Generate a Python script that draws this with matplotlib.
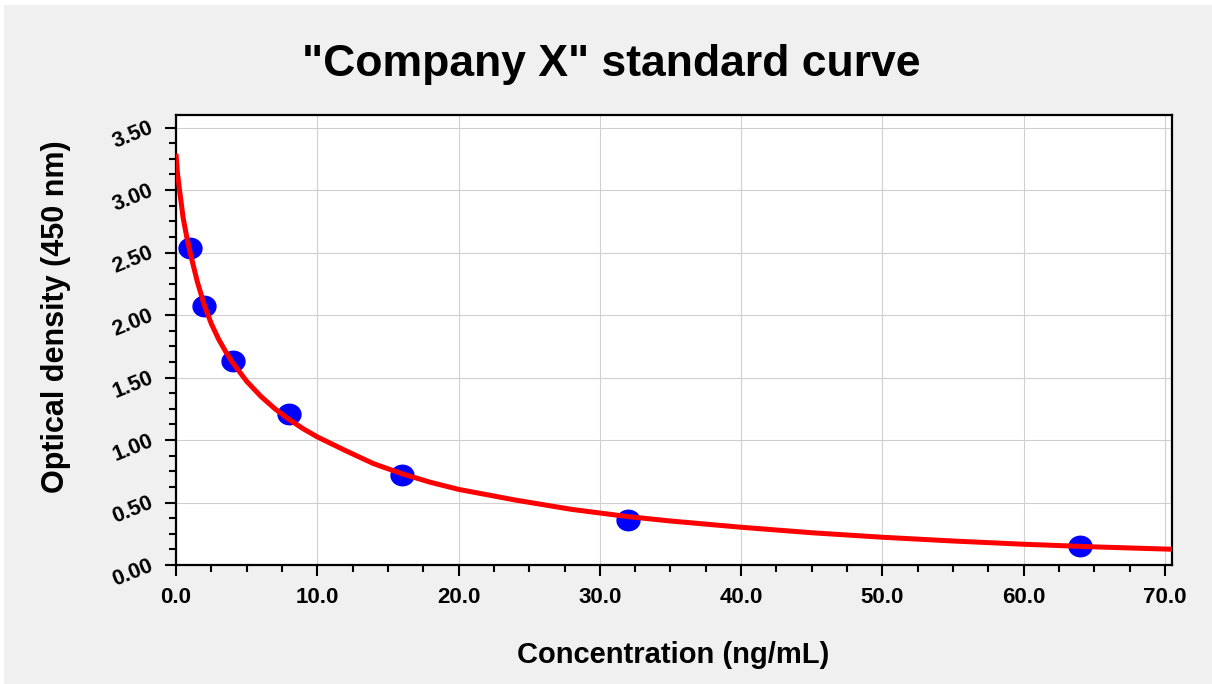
import matplotlib
matplotlib.use("Agg")
import matplotlib.pyplot as plt
from matplotlib.patches import Rectangle
from matplotlib.path import Path
from matplotlib.transforms import Affine2D
from matplotlib.ticker import MultipleLocator, FormatStrFormatter

# ---- data ----
conc = [1, 2, 4, 8, 16, 32, 64]
od = [2.54, 2.07, 1.63, 1.21, 0.72, 0.36, 0.155]

curve_x = [0, 0.1, 0.25, 0.5, 0.75, 1, 1.5, 2, 2.5, 3, 3.5, 4, 5, 6, 7, 8, 9,
           10, 12, 14, 16, 18, 20, 24, 28, 32, 35, 40, 45, 50, 55, 60, 65, 70.5]
curve_y = [3.29, 3.14, 3.00, 2.78, 2.63, 2.50, 2.27, 2.08, 1.93, 1.81, 1.71,
           1.62, 1.47, 1.35, 1.25, 1.165, 1.09, 1.025, 0.915, 0.81, 0.73,
           0.662, 0.605, 0.52, 0.445, 0.387, 0.352, 0.302, 0.258, 0.222,
           0.192, 0.166, 0.145, 0.126]

title = '"Company X" standard curve'
xlabel = "Concentration (ng/mL)"
ylabel = "Optical density (450 nm)"

plt.rcParams['font.family'] = ['Liberation Sans', 'DejaVu Sans']
plt.rcParams['font.weight'] = 'bold'

W, H = 1212, 684
fig = plt.figure(figsize=(W / 100, H / 100), dpi=100, facecolor='white')
fig.patches.append(Rectangle((4 / W, 0), 1, 1 - 5 / H, transform=fig.transFigure,
                             facecolor='#f0f0f0', edgecolor='none', zorder=-10))

ax = fig.add_axes([176 / W, 1 - 565 / H, (1172 - 176) / W, (565 - 115) / H])
ax.set_facecolor('white')

ax.grid(True, which='major', color='#d0d0d0', linewidth=0.8, zorder=0)
ax.set_axisbelow(True)

ax.plot(curve_x, curve_y, color='#ff0000', linewidth=3.6, zorder=3,
        solid_capstyle='butt', solid_joinstyle='round')

ell = Path.unit_circle().transformed(Affine2D().scale(1.12, 1.0))
ax.plot(conc, od, linestyle='none', marker=ell, markersize=16.5,
        markerfacecolor='#0000ff', markeredgecolor='#0000ff', zorder=2)

ax.set_xlim(0, 70.5)
ax.set_ylim(0, 3.6)
ax.xaxis.set_major_locator(MultipleLocator(10))
ax.xaxis.set_minor_locator(MultipleLocator(2.5))
ax.yaxis.set_major_locator(MultipleLocator(0.5))
ax.yaxis.set_minor_locator(MultipleLocator(0.125))
ax.xaxis.set_major_formatter(FormatStrFormatter('%.1f'))
ax.yaxis.set_major_formatter(FormatStrFormatter('%.2f'))

for s in ax.spines.values():
    s.set_linewidth(1.6)
    s.set_color('black')

ax.tick_params(axis='both', which='major', length=8, width=1.5, color='black',
               labelsize=16)
ax.tick_params(axis='both', which='minor', length=5, width=1.5, color='black')
ax.tick_params(axis='x', which='major', pad=8)
ax.tick_params(axis='y', which='major', pad=9, labelsize=15.5)

for lbl in ax.get_yticklabels():
    lbl.set_rotation(22)
    lbl.set_rotation_mode('anchor')
    lbl.set_ha('right')
    lbl.set_va('center')
    lbl.set_fontweight('bold')
for lbl in ax.get_xticklabels():
    lbl.set_fontweight('bold')

fig.text(611 / W, 1 - 76 / H, title, ha='center', va='baseline',
         fontsize=32, fontweight='bold')
fig.text(673 / W, 1 - 663 / H, xlabel, ha='center', va='baseline',
         fontsize=21, fontweight='bold')
fig.text(64 / W, 1 - 317 / H, ylabel, ha='center', va='baseline', rotation=90,
         rotation_mode='anchor', fontsize=22, fontweight='bold')

fig.savefig('out.png', dpi=100, facecolor=fig.get_facecolor())
